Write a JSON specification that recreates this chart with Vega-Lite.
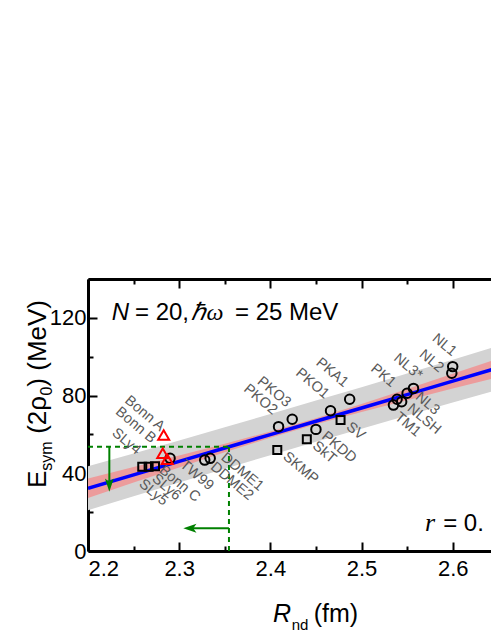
{
  "$schema": "https://vega.github.io/schema/vega-lite/v6.json",
  "width": 403,
  "height": 272,
  "autosize": {"type": "none"},
  "padding": {"left": 88, "top": 279, "right": 0, "bottom": 84},
  "background": "white",
  "config": {
    "view": {"stroke": null},
    "font": "Liberation Sans",
    "axis": {"domainColor": "black", "domainWidth": 3, "tickColor": "black", "tickWidth": 2, "labelFont": "Liberation Sans", "labelFontSize": 22, "labelColor": "black", "grid": false}
  },
  "datasets": {
    "fit": [
      {"x": 2.20, "fit": 32.3, "ci_lo": 27.3, "ci_hi": 37.3, "pi_lo": 21.0, "pi_hi": 43.6},
      {"x": 2.25, "fit": 39.2, "ci_lo": 35.2, "ci_hi": 43.2, "pi_lo": 28.2, "pi_hi": 50.2},
      {"x": 2.30, "fit": 46.1, "ci_lo": 43.0, "ci_hi": 49.2, "pi_lo": 35.3, "pi_hi": 56.9},
      {"x": 2.35, "fit": 53.0, "ci_lo": 50.8, "ci_hi": 55.2, "pi_lo": 42.3, "pi_hi": 63.7},
      {"x": 2.40, "fit": 59.9, "ci_lo": 58.3, "ci_hi": 61.5, "pi_lo": 49.3, "pi_hi": 70.5},
      {"x": 2.45, "fit": 66.8, "ci_lo": 65.3, "ci_hi": 68.3, "pi_lo": 56.2, "pi_hi": 77.4},
      {"x": 2.50, "fit": 73.6, "ci_lo": 71.5, "ci_hi": 75.7, "pi_lo": 62.9, "pi_hi": 84.3},
      {"x": 2.55, "fit": 80.5, "ci_lo": 77.6, "ci_hi": 83.4, "pi_lo": 69.7, "pi_hi": 91.3},
      {"x": 2.60, "fit": 87.4, "ci_lo": 83.6, "ci_hi": 91.2, "pi_lo": 76.4, "pi_hi": 98.4},
      {"x": 2.65, "fit": 94.3, "ci_lo": 89.5, "ci_hi": 99.1, "pi_lo": 83.0, "pi_hi": 105.6}
    ],
    "pts": [
      {"name": "SLy4", "x": 2.2595, "y": 43.4, "type": "square"},
      {"name": "SLy5", "x": 2.2665, "y": 43.4, "type": "square"},
      {"name": "SLy6", "x": 2.2735, "y": 43.6, "type": "square"},
      {"name": "Bonn A", "x": 2.283, "y": 59.7, "type": "triangle"},
      {"name": "Bonn B", "x": 2.282, "y": 50.3, "type": "triangle"},
      {"name": "Bonn C", "x": 2.287, "y": 47.2, "type": "triangle"},
      {"name": "TW99", "x": 2.290, "y": 47.7, "type": "circle"},
      {"name": "DDME2", "x": 2.328, "y": 46.8, "type": "circle"},
      {"name": "DDME1", "x": 2.334, "y": 47.7, "type": "circle"},
      {"name": "PKO2", "x": 2.409, "y": 64.0, "type": "circle"},
      {"name": "PKO3", "x": 2.424, "y": 67.8, "type": "circle"},
      {"name": "PKDD", "x": 2.450, "y": 62.6, "type": "circle"},
      {"name": "PKO1", "x": 2.466, "y": 72.2, "type": "circle"},
      {"name": "PKA1", "x": 2.487, "y": 78.1, "type": "circle"},
      {"name": "TM1", "x": 2.535, "y": 75.1, "type": "circle"},
      {"name": "PK1", "x": 2.539, "y": 78.1, "type": "circle"},
      {"name": "NLSH", "x": 2.544, "y": 76.8, "type": "circle"},
      {"name": "NL3", "x": 2.550, "y": 81.2, "type": "circle"},
      {"name": "NL3*", "x": 2.557, "y": 83.7, "type": "circle"},
      {"name": "NL2", "x": 2.599, "y": 91.5, "type": "circle"},
      {"name": "NL1", "x": 2.600, "y": 94.9, "type": "circle"},
      {"name": "SKMP", "x": 2.4076, "y": 52.0, "type": "square"},
      {"name": "SkT", "x": 2.440, "y": 57.5, "type": "square"},
      {"name": "SV", "x": 2.477, "y": 67.4, "type": "square"}
    ],
    "guides": [
      {"x": 2.2, "x2": 2.3546, "y": 53.7, "y2": 53.7},
      {"x": 2.3546, "x2": 2.3546, "y": 0, "y2": 53.7}
    ],
    "shafts": [
      {"x": 2.2234, "x2": 2.2234, "y": 53.7, "y2": 34},
      {"x": 2.3546, "x2": 2.312, "y": 11.7, "y2": 11.7}
    ],
    "heads": [
      {"dir": "down", "x": 2.2234, "y": 30.5},
      {"dir": "left", "x": 2.3045, "y": 11.7}
    ]
  },
  "resolve": {"axis": {"x": "independent", "y": "independent"}},
  "layer": [
    {
      "data": {"name": "fit"},
      "mark": {"type": "area", "color": "#d3d3d3", "clip": true},
      "encoding": {
        "x": {"field": "x", "type": "quantitative", "scale": {"domain": [2.2, 2.642], "nice": false, "zero": false},
              "axis": {"orient": "bottom", "values": [2.2, 2.3, 2.4, 2.5, 2.6], "format": ".1f", "tickSize": -9, "labelPadding": 16, "title": null}},
        "y": {"field": "pi_lo", "type": "quantitative", "scale": {"domain": [0, 140], "nice": false, "zero": false},
              "axis": {"orient": "left", "values": [0, 40, 80, 120], "tickSize": -9, "labelPadding": 11, "title": null}},
        "y2": {"field": "pi_hi"}
      }
    },
    {
      "data": {"name": "fit"},
      "mark": {"type": "area", "color": "#ec9c9c", "clip": true},
      "encoding": {
        "x": {"field": "x", "type": "quantitative", "scale": {"domain": [2.2, 2.642], "nice": false, "zero": false},
              "axis": {"orient": "bottom", "values": [2.25, 2.35, 2.45, 2.55], "labels": false, "domain": false, "tickSize": -5, "title": null}},
        "y": {"field": "ci_lo", "type": "quantitative", "scale": {"domain": [0, 140], "nice": false, "zero": false},
              "axis": {"orient": "left", "values": [20, 60, 100, 140], "labels": false, "domain": false, "tickSize": -5, "title": null}},
        "y2": {"field": "ci_hi"}
      }
    },
    {
      "data": {"name": "fit"},
      "mark": {"type": "line", "color": "#0000ff", "strokeWidth": 3.5, "clip": true},
      "encoding": {
        "x": {"field": "x", "type": "quantitative", "scale": {"domain": [2.2, 2.642], "nice": false, "zero": false},
              "axis": {"orient": "top", "values": [2.2, 2.3, 2.4, 2.5, 2.6], "labels": false, "tickSize": -9, "title": null}},
        "y": {"field": "fit", "type": "quantitative", "scale": {"domain": [0, 140], "nice": false, "zero": false}, "axis": null}
      }
    },
    {
      "data": {"name": "guides"},
      "mark": {"type": "rule", "color": "#008000", "strokeWidth": 2, "strokeDash": [5, 4]},
      "encoding": {
        "x": {"field": "x", "type": "quantitative", "scale": {"domain": [2.2, 2.642], "nice": false, "zero": false},
              "axis": {"orient": "top", "values": [2.25, 2.35, 2.45, 2.55], "labels": false, "domain": false, "tickSize": -5, "title": null}},
        "x2": {"field": "x2"},
        "y": {"field": "y", "type": "quantitative", "scale": {"domain": [0, 140], "nice": false, "zero": false}, "axis": null},
        "y2": {"field": "y2"}
      }
    },
    {
      "data": {"name": "shafts"},
      "mark": {"type": "rule", "color": "#008000", "strokeWidth": 2},
      "encoding": {
        "x": {"field": "x", "type": "quantitative", "scale": {"domain": [2.2, 2.642], "nice": false, "zero": false}, "axis": null},
        "x2": {"field": "x2"},
        "y": {"field": "y", "type": "quantitative", "scale": {"domain": [0, 140], "nice": false, "zero": false}, "axis": null},
        "y2": {"field": "y2"}
      }
    },
    {
      "data": {"name": "heads"},
      "transform": [{"filter": "datum.dir === 'down'"}],
      "mark": {"type": "point", "shape": "M0,0L-1.1,-3.3L0,-2.5L1.1,-3.3Z", "size": 64, "filled": true, "color": "#008000", "opacity": 1},
      "encoding": {
        "x": {"field": "x", "type": "quantitative", "scale": {"domain": [2.2, 2.642], "nice": false, "zero": false}, "axis": null},
        "y": {"field": "y", "type": "quantitative", "scale": {"domain": [0, 140], "nice": false, "zero": false}, "axis": null}
      }
    },
    {
      "data": {"name": "heads"},
      "transform": [{"filter": "datum.dir === 'left'"}],
      "mark": {"type": "point", "shape": "M0,0L3.3,-1.15L2.5,0L3.3,1.15Z", "size": 64, "filled": true, "color": "#008000", "opacity": 1},
      "encoding": {
        "x": {"field": "x", "type": "quantitative", "scale": {"domain": [2.2, 2.642], "nice": false, "zero": false}, "axis": null},
        "y": {"field": "y", "type": "quantitative", "scale": {"domain": [0, 140], "nice": false, "zero": false}, "axis": null}
      }
    },
    {
      "data": {"name": "pts"},
      "encoding": {
        "x": {"field": "x", "type": "quantitative", "scale": {"domain": [2.2, 2.642], "nice": false, "zero": false}, "axis": null},
        "y": {"field": "y", "type": "quantitative", "scale": {"domain": [0, 140], "nice": false, "zero": false}, "axis": null}
      },
      "layer": [
        {"transform": [{"filter": "datum.type === 'circle'"}],
         "mark": {"type": "point", "shape": "circle", "size": 90, "filled": false, "stroke": "black", "strokeWidth": 2, "opacity": 1}},
        {"transform": [{"filter": "datum.type === 'square'"}],
         "mark": {"type": "point", "shape": "square", "size": 64, "filled": false, "stroke": "black", "strokeWidth": 2, "opacity": 1}},
        {"transform": [{"filter": "datum.type === 'triangle'"}],
         "mark": {"type": "point", "shape": "triangle-up", "size": 121, "filled": false, "stroke": "#ff0000", "strokeWidth": 2, "opacity": 1}}
      ]
    },
    {
      "data": {"name": "pts"},
      "encoding": {
        "x": {"field": "x", "type": "quantitative", "scale": {"domain": [2.2, 2.642], "nice": false, "zero": false}, "axis": null},
        "y": {"field": "y", "type": "quantitative", "scale": {"domain": [0, 140], "nice": false, "zero": false}, "axis": null},
        "text": {"field": "name"}
      },
      "layer": [
        {"transform": [{"filter": "indexof(['SLy4','PKO2','PKO3','PKO1','PKA1','PK1'], datum.name) >= 0"}],
         "mark": {"type": "text", "angle": 40, "align": "right", "baseline": "alphabetic", "dx": -12, "dy": -5, "fontSize": 14.5, "color": "#595959"}},
        {"transform": [{"filter": "datum.name === 'Bonn A'"}],
         "mark": {"type": "text", "angle": 40, "align": "right", "baseline": "alphabetic", "dx": -5, "dy": 0, "fontSize": 14.5, "color": "#595959"}},
        {"transform": [{"filter": "datum.name === 'Bonn B'"}],
         "mark": {"type": "text", "angle": 40, "align": "right", "baseline": "alphabetic", "dx": -15, "dy": 0, "fontSize": 14.5, "color": "#595959"}},
        {"transform": [{"filter": "datum.name === 'NL3*'"}],
         "mark": {"type": "text", "angle": 40, "align": "right", "baseline": "alphabetic", "dx": -2, "dy": -9, "fontSize": 14.5, "color": "#595959"}},
        {"transform": [{"filter": "datum.name === 'NL2'"}],
         "mark": {"type": "text", "angle": 40, "align": "right", "baseline": "alphabetic", "dx": -10, "dy": 8, "fontSize": 14.5, "color": "#595959"}},
        {"transform": [{"filter": "datum.name === 'NL1'"}],
         "mark": {"type": "text", "angle": 40, "align": "right", "baseline": "alphabetic", "dx": -7, "dy": -7, "fontSize": 14.5, "color": "#595959"}},
        {"transform": [{"filter": "indexof(['SKMP','SkT','PKDD','SV','DDME2','NLSH'], datum.name) >= 0"}],
         "mark": {"type": "text", "angle": 40, "align": "left", "baseline": "alphabetic", "dx": 9, "dy": 3, "fontSize": 14.5, "color": "#595959"}},
        {"transform": [{"filter": "datum.name === 'NL3'"}],
         "mark": {"type": "text", "angle": 40, "align": "left", "baseline": "alphabetic", "dx": 9, "dy": -1, "fontSize": 14.5, "color": "#595959"}},
        {"transform": [{"filter": "datum.name === 'TM1'"}],
         "mark": {"type": "text", "angle": 40, "align": "left", "baseline": "alphabetic", "dx": 9, "dy": 10, "fontSize": 14.5, "color": "#595959"}},
        {"transform": [{"filter": "datum.name === 'TW99'"}],
         "mark": {"type": "text", "angle": 40, "align": "left", "baseline": "alphabetic", "dx": 12, "dy": 0, "fontSize": 14.5, "color": "#595959"}},
        {"transform": [{"filter": "datum.name === 'Bonn C'"}],
         "mark": {"type": "text", "angle": 40, "align": "left", "baseline": "alphabetic", "dx": 1, "dy": 15, "fontSize": 14.5, "color": "#595959"}},
        {"transform": [{"filter": "datum.name === 'SLy6'"}],
         "mark": {"type": "text", "angle": 40, "align": "left", "baseline": "alphabetic", "dx": 6, "dy": 13, "fontSize": 14.5, "color": "#595959"}},
        {"transform": [{"filter": "datum.name === 'SLy5'"}],
         "mark": {"type": "text", "angle": 40, "align": "left", "baseline": "alphabetic", "dx": 4, "dy": 21, "fontSize": 14.5, "color": "#595959"}},
        {"transform": [{"filter": "datum.name === 'DDME1'"}],
         "mark": {"type": "text", "angle": 40, "align": "left", "baseline": "alphabetic", "dx": 8, "dy": -6, "fontSize": 14.5, "color": "#595959"}}
      ]
    },
    {
      "data": {"values": [{}]},
      "encoding": {
        "x": {"datum": 2.226, "type": "quantitative", "scale": {"domain": [2.2, 2.642], "nice": false, "zero": false}, "axis": null},
        "y": {"datum": 118.9, "type": "quantitative", "scale": {"domain": [0, 140], "nice": false, "zero": false}, "axis": null}
      },
      "mark": {"type": "text", "text": "N", "fontSize": 24, "fontStyle": "italic", "align": "left", "baseline": "alphabetic", "color": "black"}
    },
    {
      "data": {"values": [{}]},
      "mark": {"type": "text", "text": "= 20,", "fontSize": 24, "align": "left", "baseline": "alphabetic", "color": "black"},
      "encoding": {
        "x": {"datum": 2.2515, "type": "quantitative", "scale": {"domain": [2.2, 2.642], "nice": false, "zero": false}, "axis": null},
        "y": {"datum": 118.9, "type": "quantitative", "scale": {"domain": [0, 140], "nice": false, "zero": false}, "axis": null}
      }
    },
    {
      "data": {"values": [{}]},
      "mark": {"type": "text", "text": "ℏω", "font": "Liberation Serif", "fontSize": 24, "fontStyle": "italic", "align": "left", "baseline": "alphabetic", "color": "black"},
      "encoding": {
        "x": {"datum": 2.3135, "type": "quantitative", "scale": {"domain": [2.2, 2.642], "nice": false, "zero": false}, "axis": null},
        "y": {"datum": 118.9, "type": "quantitative", "scale": {"domain": [0, 140], "nice": false, "zero": false}, "axis": null}
      }
    },
    {
      "data": {"values": [{}]},
      "mark": {"type": "text", "text": "= 25 MeV", "fontSize": 24, "align": "left", "baseline": "alphabetic", "color": "black"},
      "encoding": {
        "x": {"datum": 2.3612, "type": "quantitative", "scale": {"domain": [2.2, 2.642], "nice": false, "zero": false}, "axis": null},
        "y": {"datum": 118.9, "type": "quantitative", "scale": {"domain": [0, 140], "nice": false, "zero": false}, "axis": null}
      }
    },
    {
      "data": {"values": [{}]},
      "mark": {"type": "text", "text": "r", "font": "Liberation Serif", "fontSize": 26, "fontStyle": "italic", "align": "left", "baseline": "alphabetic", "color": "black"},
      "encoding": {
        "x": {"datum": 2.5695, "type": "quantitative", "scale": {"domain": [2.2, 2.642], "nice": false, "zero": false}, "axis": null},
        "y": {"datum": 10.4, "type": "quantitative", "scale": {"domain": [0, 140], "nice": false, "zero": false}, "axis": null}
      }
    },
    {
      "data": {"values": [{}]},
      "mark": {"type": "text", "text": "= 0.", "fontSize": 24, "align": "left", "baseline": "alphabetic", "color": "black"},
      "encoding": {
        "x": {"datum": 2.5895, "type": "quantitative", "scale": {"domain": [2.2, 2.642], "nice": false, "zero": false}, "axis": null},
        "y": {"datum": 10.4, "type": "quantitative", "scale": {"domain": [0, 140], "nice": false, "zero": false}, "axis": null}
      }
    },
    {
      "data": {"values": [{}]},
      "mark": {"type": "text", "text": "R", "fontSize": 25, "fontStyle": "italic", "align": "left", "baseline": "alphabetic", "color": "black"},
      "encoding": {
        "x": {"datum": 2.4029, "type": "quantitative", "scale": {"domain": [2.2, 2.642], "nice": false, "zero": false}, "axis": null},
        "y": {"datum": -36.4, "type": "quantitative", "scale": {"domain": [0, 140], "nice": false, "zero": false}, "axis": null}
      }
    },
    {
      "data": {"values": [{}]},
      "mark": {"type": "text", "text": "nd", "fontSize": 15, "align": "left", "baseline": "alphabetic", "color": "black"},
      "encoding": {
        "x": {"datum": 2.4234, "type": "quantitative", "scale": {"domain": [2.2, 2.642], "nice": false, "zero": false}, "axis": null},
        "y": {"datum": -40.7, "type": "quantitative", "scale": {"domain": [0, 140], "nice": false, "zero": false}, "axis": null}
      }
    },
    {
      "data": {"values": [{}]},
      "mark": {"type": "text", "text": "(fm)", "fontSize": 25, "align": "left", "baseline": "alphabetic", "color": "black"},
      "encoding": {
        "x": {"datum": 2.4475, "type": "quantitative", "scale": {"domain": [2.2, 2.642], "nice": false, "zero": false}, "axis": null},
        "y": {"datum": -36.4, "type": "quantitative", "scale": {"domain": [0, 140], "nice": false, "zero": false}, "axis": null}
      }
    },
    {
      "data": {"values": [{}]},
      "mark": {"type": "text", "text": "E", "angle": 270, "fontSize": 26, "align": "left", "baseline": "alphabetic", "color": "black"},
      "encoding": {
        "x": {"datum": 2.154, "type": "quantitative", "scale": {"domain": [2.2, 2.642], "nice": false, "zero": false}, "axis": null},
        "y": {"datum": 32.4, "type": "quantitative", "scale": {"domain": [0, 140], "nice": false, "zero": false}, "axis": null}
      }
    },
    {
      "data": {"values": [{}]},
      "mark": {"type": "text", "text": "sym", "angle": 270, "fontSize": 16, "align": "left", "baseline": "alphabetic", "color": "black"},
      "encoding": {
        "x": {"datum": 2.1605, "type": "quantitative", "scale": {"domain": [2.2, 2.642], "nice": false, "zero": false}, "axis": null},
        "y": {"datum": 41.3, "type": "quantitative", "scale": {"domain": [0, 140], "nice": false, "zero": false}, "axis": null}
      }
    },
    {
      "data": {"values": [{}]},
      "mark": {"type": "text", "text": "(2ρ", "angle": 270, "fontSize": 26, "align": "left", "baseline": "alphabetic", "color": "black"},
      "encoding": {
        "x": {"datum": 2.154, "type": "quantitative", "scale": {"domain": [2.2, 2.642], "nice": false, "zero": false}, "axis": null},
        "y": {"datum": 60.3, "type": "quantitative", "scale": {"domain": [0, 140], "nice": false, "zero": false}, "axis": null}
      }
    },
    {
      "data": {"values": [{}]},
      "mark": {"type": "text", "text": "0", "angle": 270, "fontSize": 16, "align": "left", "baseline": "alphabetic", "color": "black"},
      "encoding": {
        "x": {"datum": 2.1605, "type": "quantitative", "scale": {"domain": [2.2, 2.642], "nice": false, "zero": false}, "axis": null},
        "y": {"datum": 80.0, "type": "quantitative", "scale": {"domain": [0, 140], "nice": false, "zero": false}, "axis": null}
      }
    },
    {
      "data": {"values": [{}]},
      "mark": {"type": "text", "text": ") (MeV)", "angle": 270, "fontSize": 26, "align": "left", "baseline": "alphabetic", "color": "black"},
      "encoding": {
        "x": {"datum": 2.154, "type": "quantitative", "scale": {"domain": [2.2, 2.642], "nice": false, "zero": false}, "axis": null},
        "y": {"datum": 84.6, "type": "quantitative", "scale": {"domain": [0, 140], "nice": false, "zero": false}, "axis": null}
      }
    }
  ]
}
